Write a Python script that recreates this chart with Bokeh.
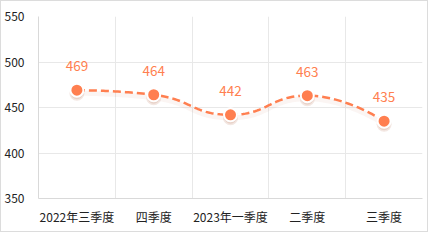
from bokeh.plotting import figure
from bokeh.models import Range1d, FixedTicker, ColumnDataSource
from bokeh.core.properties import value
from bokeh.embed import file_html
from bokeh.resources import INLINE

categories = ["2022年三季度", "四季度", "2023年一季度", "二季度", "三季度"]
values = [469, 464, 442, 463, 435]
y_ticks = [350, 400, 450, 500, 550]

COLOR = "#ff7f50"
FONT = "Noto Sans CJK SC"

W, H = 428, 232
ML, MR, MT, MB = 37, 7, 15, 35

p = figure(width=W, height=H, output_backend="svg", toolbar_location=None,
           x_range=Range1d(0, len(categories)), y_range=Range1d(350, 550),
           min_border_left=ML, min_border_right=MR, min_border_top=MT, min_border_bottom=MB)
p.styles = {"border": "1px solid #dcdcdc"}
p.outline_line_color = None
p.background_fill_color = "white"
p.border_fill_color = "white"

xs = [i + 0.5 for i in range(len(categories))]

# x axis
p.xaxis.ticker = FixedTicker(ticks=xs)
p.xaxis.major_label_overrides = {x: c for x, c in zip(xs, categories)}
p.xgrid.ticker = FixedTicker(ticks=list(range(len(categories) + 1)))
p.yaxis.ticker = FixedTicker(ticks=y_ticks)
p.ygrid.ticker = FixedTicker(ticks=y_ticks)
for ax in (p.xaxis, p.yaxis):
    ax.major_tick_line_color = None
    ax.minor_tick_line_color = None
    ax.axis_line_color = "#d9d9d9"
    ax.major_label_text_font = FONT
    ax.major_label_text_font_size = "12px"
    ax.major_label_text_color = "#222222"
p.xaxis.major_label_standoff = 3
p.yaxis.major_label_standoff = 8
p.xgrid.grid_line_color = "#e8e8e8"
p.ygrid.grid_line_color = "#e8e8e8"

# ECharts-like smooth curve computed in pixel space
fw = W - ML - MR
fh = H - MT - MB
sx = fw / len(categories)
sy = fh / 200.0
pts = [(x * sx, v * sy) for x, v in zip(xs, values)]
smooth = 0.5


def clamp(v, a, b):
    return max(min(v, max(a, b)), min(a, b))


segs = []
cp0 = pts[0]
for k in range(1, len(pts)):
    x, y = pts[k]
    px, py = pts[k - 1]
    if k + 1 >= len(pts):
        cp1 = (x, y)
        ncp0 = (x, y)
    else:
        nx, ny = pts[k + 1]
        vx, vy = nx - px, ny - py
        lp = ((x - px) ** 2 + (y - py) ** 2) ** 0.5
        ln = ((nx - x) ** 2 + (ny - y) ** 2) ** 0.5
        r = ln / (ln + lp)
        ncx = x + vx * smooth * r
        ncy = y + vy * smooth * r
        ncx = clamp(ncx, nx, x)
        ncy = clamp(ncy, ny, y)
        vx, vy = ncx - x, ncy - y
        c1x = x - vx * lp / ln
        c1y = y - vy * lp / ln
        c1x = clamp(c1x, px, x)
        c1y = clamp(c1y, py, y)
        vx, vy = x - c1x, y - c1y
        ncx = x + vx * ln / lp
        ncy = y + vy * ln / lp
        cp1 = (c1x, c1y)
        ncp0 = (ncx, ncy)
    segs.append(((px, py), cp0, cp1, (x, y)))
    cp0 = ncp0

cx, cy = [], []
for si, (a, b, c, d) in enumerate(segs):
    n = 40
    for i in range(n + (1 if si == len(segs) - 1 else 0)):
        t = i / n
        mt = 1 - t
        X = mt**3 * a[0] + 3 * mt**2 * t * b[0] + 3 * mt * t**2 * c[0] + t**3 * d[0]
        Y = mt**3 * a[1] + 3 * mt**2 * t * b[1] + 3 * mt * t**2 * c[1] + t**3 * d[1]
        cx.append(X / sx)
        cy.append(Y / sy)

# soft shadow
shadow_dy = 3 / sy
p.line(cx, [v - shadow_dy for v in cy], line_color="#b04010", line_alpha=0.05, line_width=5)
p.line(cx, cy, line_color=COLOR, line_width=2.5, line_dash="8 4")

src = ColumnDataSource(dict(x=xs, y=values, label=[str(v) for v in values],
                            ys=[v - shadow_dy for v in values]))
p.scatter("x", "ys", source=src, size=15, fill_color="#a03a10", fill_alpha=0.12, line_color=None)
p.scatter("x", "ys", source=src, size=12, fill_color="#a03a10", fill_alpha=0.12, line_color=None)
p.scatter("x", "y", source=src, size=13, fill_color=COLOR, line_color="white", line_width=2)
p.text("x", "y", text="label", source=src, text_align="center", text_baseline="alphabetic",
       y_offset=-24, text_color=COLOR, text_font=value(FONT), text_font_size="13.5px")

open("out.html", "w").write(file_html(p, INLINE))
